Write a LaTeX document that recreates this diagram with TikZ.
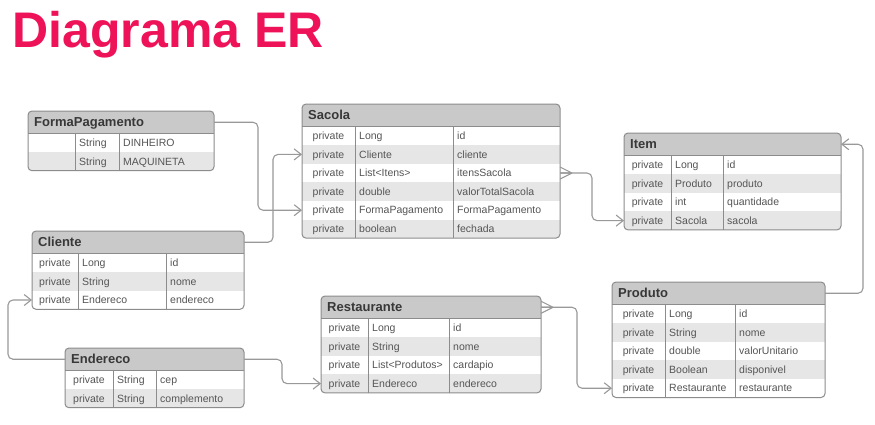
\documentclass[tikz,border=0pt]{standalone}
\usepackage{fontspec}
\setmainfont{Liberation Sans}
\usetikzlibrary{arrows.meta}
\definecolor{erpink}{HTML}{EE1259}
\definecolor{erline}{HTML}{8C8C8C}
\definecolor{erhead}{HTML}{C9C9C9}
\definecolor{eralt}{HTML}{E6E6E6}
\definecolor{ertext}{HTML}{555555}
\definecolor{erhtext}{HTML}{383838}
\definecolor{erconn}{HTML}{999999}
\tikzset{
  cellbox/.style={draw=none, inner sep=0pt, outer sep=0pt, anchor=north west},
  celltext/.style={inner sep=0pt, text=ertext, font=\fontsize{10.5}{12}\selectfont, text height=7.5pt, text depth=0pt},
  headtext/.style={inner sep=0pt, anchor=west, text=erhtext, font=\fontsize{13}{15}\selectfont\bfseries, text height=9.3pt, text depth=0pt},
  tableborder/.style={draw=erline, line width=1pt, rounded corners=4pt},
  colline/.style={draw=erline, line width=0.9pt},
  conn/.style={draw=erconn, line width=1.1pt, rounded corners=5pt, -{Straight Barb[length=7pt,width=11pt]}},
  crow/.style={draw=erconn, line width=1.1pt}
}
% id, title, left, top, right, col1, col2, rows
\newcommand\ertable[8]{%
  \foreach \x [count=\c] in {#8} {\xdef\erN{\c}}%
  \pgfmathsetmacro\erW{#5-#3}%
  \pgfmathsetmacro\erH{#4+22.5}%
  \pgfmathsetmacro\erB{#4+22.5+\erN*18.6}%
  \pgfmathsetmacro\erP{(#3+#6)/2}%
  \begin{scope}
    \clip[rounded corners=4pt] (#3,#4) rectangle (#5,\erB);
    \node[cellbox, fill=erhead, minimum width=\erW pt, minimum height=22.5pt] (#1-h) at (#3,#4) {};
    \foreach \a/\b/\d [count=\i] in {#8} {
      \pgfmathsetmacro\ry{#4+22.5+(\i-1)*18.6}
      \pgfmathsetmacro\rc{\ry+9.3}
      \ifodd\i \def\rf{white}\else\def\rf{eralt}\fi
      \node[cellbox, fill=\rf, minimum width=\erW pt, minimum height=18.6pt] (#1-r\i) at (#3,\ry) {};
      \node[celltext, anchor=center] (#1-p\i) at (\erP,\rc) {\a};
      \node[celltext, anchor=west] (#1-t\i) at (#6+4,\rc) {\b};
      \node[celltext, anchor=west] (#1-n\i) at (#7+4,\rc) {\d};
    }
  \end{scope}
  \node[headtext] (#1-title) at (#3+6,#4+11.25) {#2};
  \draw[colline] (#3,\erH) -- (#5,\erH);
  \draw[colline] (#6,\erH) -- (#6,\erB);
  \draw[colline] (#7,\erH) -- (#7,\erB);
  \draw[tableborder] (#3,#4) rectangle (#5,\erB);
}
\newcommand\crowfoot[1]{%
  \draw[crow] ([xshift=12pt]#1) -- ([yshift=6pt]#1)
              ([xshift=12pt]#1) -- ([yshift=-6pt]#1)
              ([xshift=12pt]#1) -- (#1);
}
\begin{document}
\begin{tikzpicture}[x=1pt, y=-1pt]
  \useasboundingbox (0,0) rectangle (875,424);
  \fill[white] (0,0) rectangle (875,424);
  \node[inner sep=0pt, anchor=base west, text=erpink, font=\fontsize{50}{56}\selectfont\bfseries] (title) at (12.4,47) {Diagrama ER};

  \ertable{fp}{FormaPagamento}{28}{111}{214}{75}{119}{/String/DINHEIRO, /String/MAQUINETA}
  \ertable{sac}{Sacola}{302}{104}{560}{355}{453}{private/Long/id, private/Cliente/cliente, private/List<Itens>/itensSacola, private/double/valorTotalSacola, private/FormaPagamento/FormaPagamento, private/boolean/fechada}
  \ertable{item}{Item}{624}{133}{841}{671}{723}{private/Long/id, private/Produto/produto, private/int/quantidade, private/Sacola/sacola}
  \ertable{cli}{Cliente}{32}{231}{244}{78}{166}{private/Long/id, private/String/nome, private/Endereco/endereco}
  \ertable{endr}{Endereco}{65}{348}{244}{113}{156}{private/String/cep, private/String/complemento}
  \ertable{rest}{Restaurante}{321}{296}{541}{368}{449}{private/Long/id, private/String/nome, private/List<Produtos>/cardapio, private/Endereco/endereco}
  \ertable{prod}{Produto}{612}{282}{825}{665}{735}{private/Long/id, private/String/nome, private/double/valorUnitario, private/Boolean/disponivel, private/Restaurante/restaurante}

  \draw[conn] (fp-h.east) -- ++(44,0) |- (sac-r5.west);
  \draw[conn] (cli-h.east) -- ++(29,0) |- (sac-r2.west);
  \draw[conn] (sac-r3.east) -- ++(32,0) |- (item-r4.west);
  \crowfoot{sac-r3.east}
  \draw[conn] (prod-h.east) -- ++(38,0) |- (item-h.east);
  \draw[conn] (rest-h.east) -- ++(36,0) |- (prod-r5.west);
  \crowfoot{rest-h.east}
  \draw[conn] (endr-h.east) -- ++(38,0) |- (rest-r4.west);
  \draw[conn] (endr-h.west) -- ++(-57,0) |- (cli-r3.west);
\end{tikzpicture}
\end{document}
